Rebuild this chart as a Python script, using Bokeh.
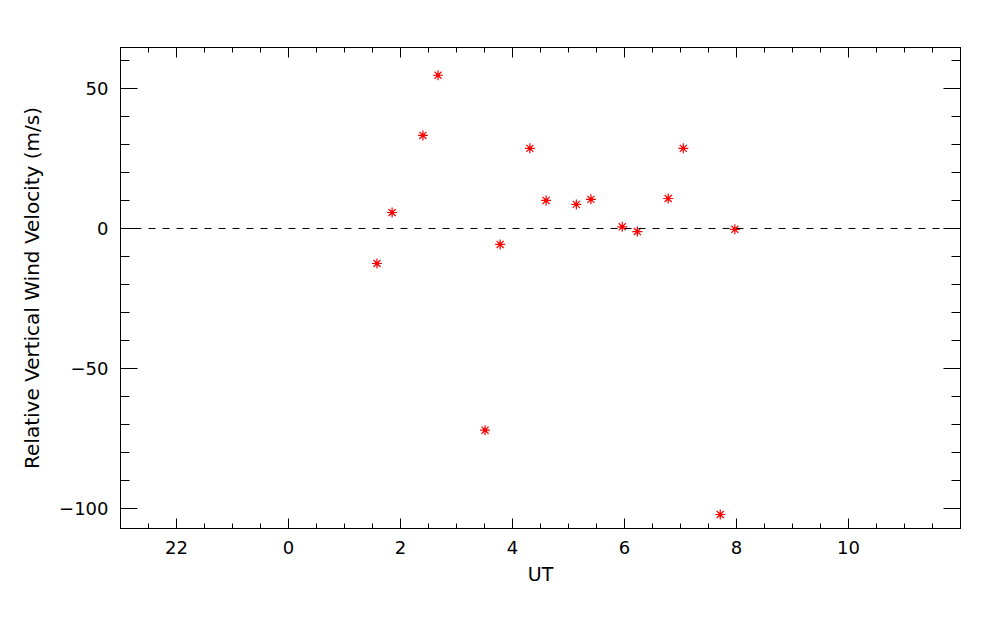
import numpy as np
from bokeh.plotting import figure
from bokeh.models import FixedTicker, LinearAxis, Span, Range1d
from bokeh.embed import file_html
from bokeh.resources import INLINE

# Data (UT hours, relative to 0 UT; negative = previous day)
ut_hours = [1.58, 1.85, 2.40, 2.67, 3.51, 3.78, 4.31, 4.60, 5.14, 5.40, 5.96, 6.23, 6.78, 7.05, 7.71, 7.97]
wind = [-12.5, 5.7, 33.2, 54.7, -72.0, -5.7, 28.6, 10.0, 8.6, 10.4, 0.6, -1.1, 10.7, 28.6, -102.1, -0.3]

x_major = [-2, 0, 2, 4, 6, 8, 10]
x_labels = ["22", "0", "2", "4", "6", "8", "10"]
y_major = [-100, -50, 0, 50]
y_labels = ["\u2212100", "\u221250", "0", "50"]

FONT = "DejaVu Sans"

p = figure(width=984, height=609, output_backend="svg", toolbar_location=None,
           x_range=Range1d(-3, 12), y_range=Range1d(-107.1, 64.6),
           x_axis_location=None, y_axis_location=None)
p.min_border_left = 120
p.min_border_right = 24
p.min_border_top = 47
p.min_border_bottom = 81
p.xgrid.visible = False
p.ygrid.visible = False
p.outline_line_color = "black"
p.outline_line_width = 1
p.background_fill_color = "white"
p.border_fill_color = "white"

x_minor = list(np.arange(-3, 12.01, 0.5))
y_minor = list(np.arange(-100, 61, 10))
xt = FixedTicker(ticks=x_major, minor_ticks=x_minor)
yt = FixedTicker(ticks=y_major, minor_ticks=y_minor)


def style(ax, tin, min_in):
    ax.major_tick_in = tin
    ax.major_tick_out = 0
    ax.minor_tick_in = min_in
    ax.minor_tick_out = 0
    ax.axis_line_color = "black"
    ax.major_tick_line_color = "black"
    ax.minor_tick_line_color = "black"
    ax.major_label_text_font = FONT
    ax.major_label_text_font_size = "18px"
    ax.major_label_text_color = "black"
    ax.axis_label_text_font = FONT
    ax.axis_label_text_font_size = "19px"
    ax.axis_label_text_font_style = "normal"
    ax.axis_label_text_color = "black"


bottom = LinearAxis(ticker=xt, axis_label="UT",
                    major_label_overrides={t: l for t, l in zip(x_major, x_labels)})
style(bottom, 10, 5)
bottom.major_label_standoff = 12
bottom.axis_label_standoff = 6
p.add_layout(bottom, "below")

top = LinearAxis(ticker=xt, major_label_overrides={t: "" for t in x_major})
style(top, 10, 5)
top.major_label_standoff = 0
p.add_layout(top, "above")

left = LinearAxis(ticker=yt, axis_label="Relative Vertical Wind Velocity (m/s)",
                  major_label_overrides={t: l for t, l in zip(y_major, y_labels)})
style(left, 17, 9)
left.axis_label_text_font_size = "20px"
left.major_label_standoff = 12
left.axis_label_standoff = 12
p.add_layout(left, "left")

right = LinearAxis(ticker=yt, major_label_overrides={t: "" for t in y_major})
style(right, 17, 9)
right.major_label_standoff = 0
p.add_layout(right, "right")

p.add_layout(Span(location=0, dimension="width", line_color="black",
                  line_dash="7 7", line_width=1))

p.scatter(ut_hours, wind, marker="asterisk", size=10, line_color="red", line_width=1.2)
p.scatter(ut_hours, wind, marker="circle", size=3, fill_color="red", line_color="red")

open("out.html", "w").write(file_html(p, INLINE))
